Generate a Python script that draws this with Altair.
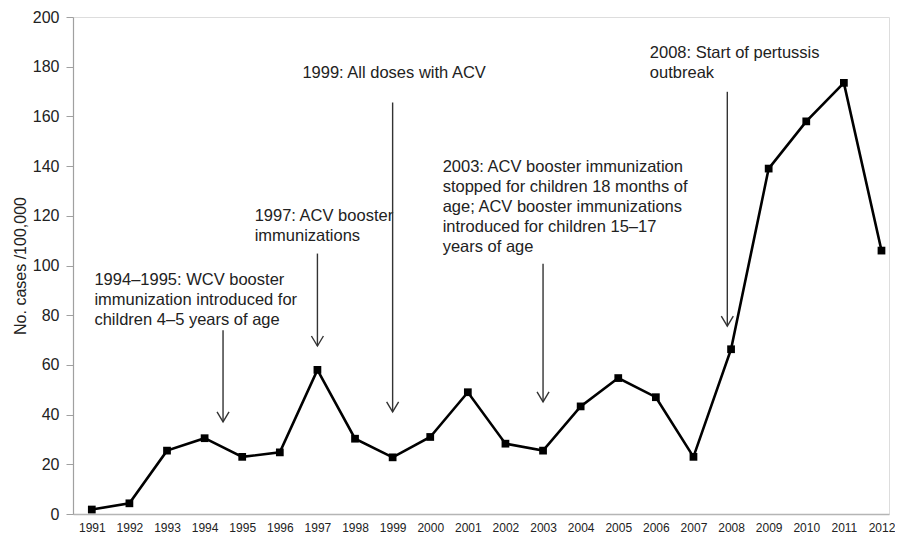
import altair as alt
import pandas as pd

years = list(range(1991, 2013))
cases = [1.8, 4.3, 25.5, 30.5, 23.0, 24.8, 58.0, 30.3, 22.8, 31.0, 49.0, 28.3,
         25.5, 43.3, 54.7, 47.0, 23.0, 66.3, 139.0, 158.0, 173.5, 106.0]

# annotation text blocks (x = left edge in years, y = first line in cases)
ann_x = [1991.07, 1995.33, 1996.60, 2000.33, 2005.84]
ann_y = [94.0, 120.1, 177.6, 139.5, 185.7]
ann_text = [
    ["1994\u20131995: WCV booster", "immunization introduced for", "children 4\u20135 years of age"],
    ["1997: ACV booster", "immunizations"],
    ["1999: All doses with ACV"],
    ["2003: ACV booster immunization", "stopped for children 18 months of",
     "age; ACV booster immunizations", "introduced for children 15\u201317", "years of age"],
    ["2008: Start of pertussis", "outbreak"],
]

# arrows (x in years, top and tip in cases)
arr_x = [1994.49, 1997.0, 1999.0, 2003.0, 2007.9]
arr_top = [73.9, 104.8, 165.6, 100.7, 169.9]
arr_tip = [37.1, 67.6, 41.1, 45.1, 75.6]

FONT = "Liberation Sans"

df = pd.DataFrame({"year": years, "cases": cases})
ann = pd.DataFrame({"x": ann_x, "y": ann_y, "text": ann_text})
arr = pd.DataFrame({"x": arr_x, "top": arr_top, "tip": arr_tip})

xscale = alt.Scale(domain=[1990.5, 2012.2], nice=False, zero=False)
yscale = alt.Scale(domain=[0, 200], nice=False)

xaxis = alt.Axis(values=years, format="d", title=None, ticks=False,
                 grid=False, labelFontSize=12, labelPadding=8,
                 labelOverlap=False, labelFlush=False, labelBound=False,
                 labelColor="#222", domainColor="#b5b5b5",
                 domainWidth=1.5, labelFont=FONT)
yaxis = alt.Axis(values=list(range(0, 201, 20)), title="No. cases /100,000",
                 grid=False, tickSize=7, tickColor="#a0a0a0",
                 domainColor="#a0a0a0", domainWidth=1.2,
                 labelFontSize=16, labelPadding=7, labelColor="#222",
                 labelOverlap=False,
                 labelFont=FONT, titleFont=FONT, titleFontSize=16,
                 titleFontWeight="normal", titleColor="#222",
                 titlePadding=4)

base = alt.Chart(df)

line = base.mark_line(color="black", strokeWidth=2.6).encode(
    x=alt.X("year:Q", scale=xscale, axis=xaxis),
    y=alt.Y("cases:Q", scale=yscale, axis=yaxis),
)

pts = base.mark_point(shape="square", filled=True, color="black", size=60,
                      opacity=1).encode(
    x=alt.X("year:Q", scale=xscale, axis=xaxis),
    y=alt.Y("cases:Q", scale=yscale, axis=yaxis),
)

arr_base = alt.Chart(arr)
shafts = arr_base.mark_rule(color="#333", strokeWidth=1.4).encode(
    x=alt.X("x:Q", scale=xscale, axis=xaxis),
    y=alt.Y("top:Q", scale=yscale, axis=yaxis),
    y2="tip:Q",
)
heads = arr_base.mark_point(
    shape="M -0.6 -1 L 0 0 L 0.6 -1", filled=False, color="#333",
    strokeWidth=1.4, size=400, opacity=1,
).encode(
    x=alt.X("x:Q", scale=xscale, axis=xaxis),
    y=alt.Y("tip:Q", scale=yscale, axis=yaxis),
)

texts = alt.Chart(ann).mark_text(
    align="left", baseline="middle", fontSize=16.5, lineHeight=20,
    font=FONT, color="#222",
).encode(
    x=alt.X("x:Q", scale=xscale, axis=xaxis),
    y=alt.Y("y:Q", scale=yscale, axis=yaxis),
    text="text",
)

chart = alt.layer(line, pts, shafts, heads, texts).properties(
    width=816, height=497,
    autosize=alt.AutoSizeParams(type="none"),
    padding={"left": 65, "top": 9, "right": 6, "bottom": 20},
).configure_view(stroke=None).configure_axis(
    labelOverlap=False
).configure(background="white")

chart.save("out.html", embed_options={"renderer": "svg", "actions": False})
